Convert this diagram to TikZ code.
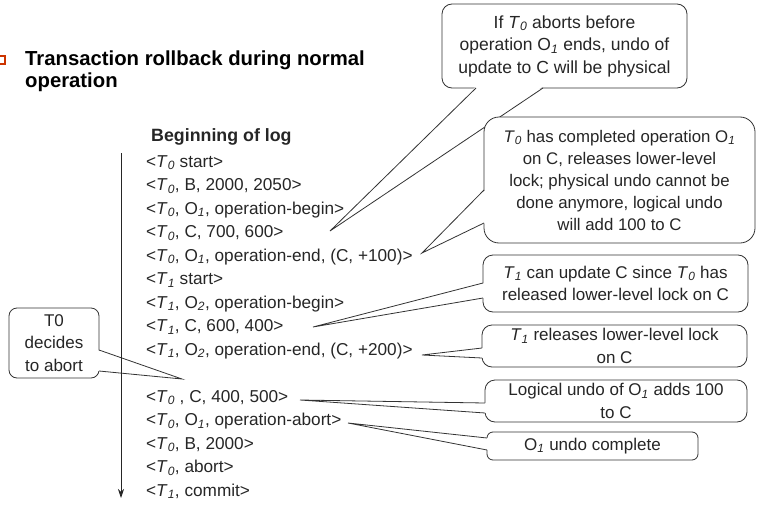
\documentclass[tikz,border=0pt]{standalone}
\usepackage{fontspec}
\setmainfont{Liberation Sans}
\usepackage{tikz}
\usetikzlibrary{
	arrows.meta,
	calc,
	positioning,
}
\newcommand{\Tx}[1]{\textit{T}\textsubscript{\textit{#1}}}
\newcommand{\Ox}[1]{O\textsubscript{\textit{#1}}}
\definecolor{bulletred}{RGB}{204,51,0}
\tikzset{log entry/.style={
	anchor=base west,
	inner sep=0mm,
	font=\fontsize{17.2}{20}\selectfont,
	black!85,
}}
\tikzset{note box/.style={
	draw=black!80,
	fill=white,
	rounded corners=10pt,
	align=center,
	inner sep=0mm,
	outer sep=0mm,
	line width=0.8pt,
	text=black!85,
	font=\fontsize{17}{22.5}\selectfont,
}}
\tikzset{pointer/.style={
	line width=0.8pt,
	draw=black!80,
}}

\begin{document}
\begin{tikzpicture}[x=1pt, y=-1pt]
\useasboundingbox (0,0) rectangle (758,506);

\node(bullet)[draw=bulletred, line width=1.2pt, minimum width=6pt, minimum height=8pt, inner sep=0mm] at (2,60) {};
\node(title)[anchor=west, align=left, inner sep=0mm, font=\fontsize{20.3}{22}\selectfont\bfseries] at (25,71)
	{Transaction rollback during normal\\operation};

\node(head)[anchor=west, inner sep=0mm, font=\fontsize{17.8}{20}\selectfont\bfseries, black!85] at (151,137) {Beginning of log};

\foreach \n/\txt in {
	0/{<\Tx{0} start>},
	1/{<\Tx{0}, B, 2000, 2050>},
	2/{<\Tx{0}, \Ox{1}, operation-begin>},
	3/{<\Tx{0}, C, 700, 600>},
	4/{<\Tx{0}, \Ox{1}, operation-end, (C, +100)>},
	5/{<\Tx{1} start>},
	6/{<\Tx{1}, \Ox{2}, operation-begin>},
	7/{<\Tx{1}, C, 600, 400>},
	8/{<\Tx{1}, \Ox{2}, operation-end, (C, +200)>},
	10/{<\Tx{0} , C, 400, 500>},
	11/{<\Tx{0}, \Ox{1}, operation-abort>},
	12/{<\Tx{0}, B, 2000>},
	13/{<\Tx{0}, abort>},
	14/{<\Tx{1}, commit>}}
\node(log\n)[log entry] at (146,167+23.5*\n) {\txt};

% callouts
\node(c1)[note box, font=\fontsize{17.5}{22.5}\selectfont, minimum width=245pt, minimum height=84pt] at (564.5,46)
	{If \Tx{0} aborts before\\operation \Ox{1} ends, undo of\\update to C will be physical};
\coordinate(c1-tip) at (330,231);
\fill[white] ($(c1.south west)+(34,-1.5)$) -- (c1-tip) -- ($(c1.south west)+(101,-1.5)$) -- cycle;
\draw[pointer] ($(c1.south west)+(34,0)$) -- (c1-tip) -- ($(c1.south west)+(101,0)$);

\node(c2)[note box, rounded corners=15pt, font=\fontsize{16.8}{22}\selectfont, minimum width=271pt, minimum height=126pt] at (619.5,180)
	{\Tx{0} has completed operation \Ox{1}\\on C, releases lower-level\\lock; physical undo cannot be\\done anymore, logical undo\\will add 100 to C};
\node(c3)[note box, minimum width=265pt, minimum height=57pt] at (615.5,283.5)
	{\Tx{1} can update C since \Tx{0} has\\released lower-level lock on C};
\node(c4)[note box, minimum width=265pt, minimum height=42pt] at (614.5,346)
	{\Tx{1} releases lower-level lock\\on C};
\node(c5)[note box, minimum width=262pt, minimum height=42pt] at (616,401)
	{Logical undo of \Ox{1} adds 100\\to C};
\node(c6)[note box, rounded corners=6pt, minimum width=211pt, minimum height=28pt] at (592.5,446)
	{\Ox{1} undo complete};

\coordinate(c2-tip) at (422,253);
\coordinate(c3-tip) at (313,327);
\coordinate(c4-tip) at (422,355);
\coordinate(c5-tip) at (300,400);
\coordinate(c6-tip) at (348,423);

\foreach \c/\a/\b in {c2/73/106, c3/28/43, c4/23/33, c5/23/33, c6/6/18}
{
\fill[white] ($(\c.north west)+(1.5,\a)$) -- (\c-tip) -- ($(\c.north west)+(1.5,\b)$) -- cycle;
\draw[pointer] ($(\c.north west)+(0,\a)$) -- (\c-tip) -- ($(\c.north west)+(0,\b)$);
}

\node(c0)[note box, rounded corners=8pt, minimum width=90pt, minimum height=70pt] at (54,343)
	{T0\\decides\\to abort};
\coordinate(c0-tip) at (182,379);
\fill[white] ($(c0.north east)+(-1.5,42)$) -- (c0-tip) -- ($(c0.north east)+(-1.5,63)$) -- cycle;
\draw[pointer] ($(c0.north east)+(0,42)$) -- (c0-tip) -- ($(c0.north east)+(0,63)$);

% time axis of the log
\coordinate(log start) at (121,153);
\coordinate(log end) at (121,498);
\draw[-{Stealth[length=9pt, width=6pt]}, line width=0.8pt, black!85] (log start) -- (log end);

\end{tikzpicture}
\end{document}
